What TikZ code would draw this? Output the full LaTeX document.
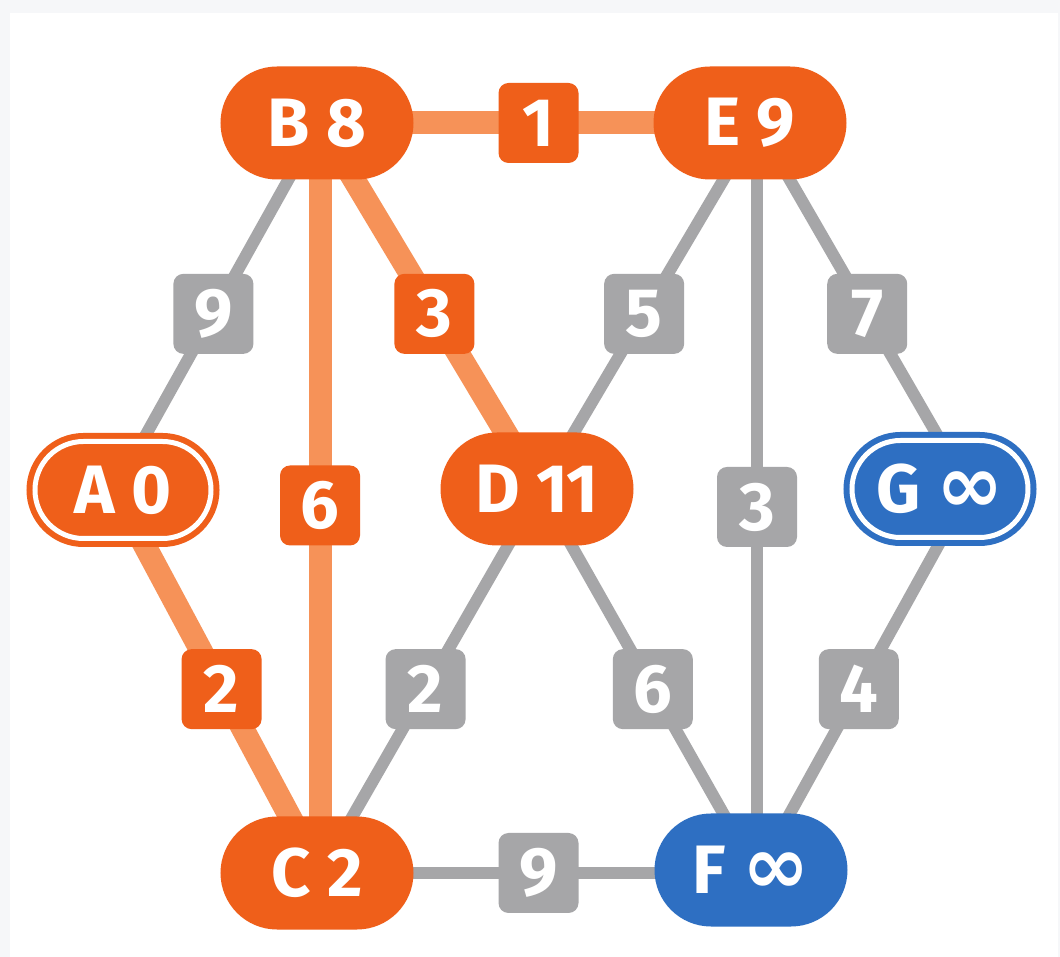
\documentclass[tikz,border=0pt]{standalone}
\usepackage{fontspec}
\setmainfont{Fira Sans}
\newfontfamily\symfont{DejaVu Sans}
\usetikzlibrary{shapes.misc,calc}
\definecolor{nodeorange}{RGB}{239,95,26}
\definecolor{edgeorange}{RGB}{246,146,88}
\definecolor{edgegray}{RGB}{166,166,168}
\definecolor{nodeblue}{RGB}{46,111,194}
\definecolor{pagebg}{RGB}{246,247,249}
\pgfdeclarelayer{back}
\pgfdeclarelayer{bg}
\pgfsetlayers{back,bg,main}
\newcommand{\inftysym}{{\symfont\fontsize{46}{46}\selectfont ∞}}
\begin{document}
\begin{tikzpicture}[x=0.2mm,y=-0.2mm,
  lbl/.style={text=white,font=\fontsize{39}{39}\selectfont\bfseries},
  pill/.style={lbl,rounded rectangle,inner sep=0pt,minimum width=38.6mm,minimum height=22.6mm,fill=#1},
  dpill/.style={lbl,rounded rectangle,inner sep=0pt,minimum width=35.2mm,minimum height=19.4mm,fill=#1,draw=#1,line width=1.2mm,double=white,double distance=1mm},
  wbox/.style={lbl,rectangle,rounded corners=2mm,inner sep=0pt,minimum size=16mm,fill=#1},
  hot/.style={draw=edgeorange,line width=4.6mm},
  cold/.style={draw=edgegray,line width=2.4mm}]
\begin{pgfonlayer}{back}
\fill[pagebg] (0,0) rectangle (1060,957);
\fill[white] (10,13) rectangle (1058,957);
\end{pgfonlayer}
\useasboundingbox (0,0) rectangle (1060,957);
% nodes
\node[pill=nodeorange] (B) at (317,123) {B 8};
\node[pill=nodeorange] (E) at (750,123) {E 9};
\node[dpill=nodeorange] (A) at (123,490) {A 0};
\node[pill=nodeorange] (D) at (537,489) {D 11};
\node[dpill=nodeblue] (G) at (940,489) {G \inftysym};
\node[pill=nodeorange] (C) at (317,873) {C 2};
\node[pill=nodeblue] (F) at (751,870) {F \inftysym};
% edge anchor points inside the nodes
\coordinate (a) at ($(A)+(-8,0)$);
\coordinate (b) at ($(B)+(3,0)$);
\coordinate (c) at ($(C)+(3,0)$);
\coordinate (d) at ($(D)+(3,1)$);
\coordinate (e) at ($(E)+(7,0)$);
\coordinate (f) at ($(F)+(6,3)$);
\coordinate (g) at ($(G)+(29,1)$);
\begin{pgfonlayer}{bg}
\draw[cold] (b) -- node[pos=.52,wbox=edgegray]{9} (a);
\draw[cold] (e) -- node[pos=.52,wbox=edgegray]{5} (d);
\draw[cold] (e) -- node[pos=.52,wbox=edgegray]{7} (g);
\draw[cold] (e) -- node[pos=.512,wbox=edgegray]{3} (f);
\draw[cold] (d) -- node[pos=.52,wbox=edgegray]{2} (c);
\draw[cold] (d) -- node[pos=.52,wbox=edgegray]{6} (f);
\draw[cold] (g) -- node[pos=.52,wbox=edgegray]{4} (f);
\draw[cold] (c) -- node[pos=.5,wbox=edgegray]{9} (f);
\draw[hot] (b) -- node[pos=.5,wbox=nodeorange]{1} (e);
\draw[hot] (a) -- node[pos=.52,wbox=nodeorange]{2} (c);
\draw[hot] (b) -- node[pos=.51,wbox=nodeorange]{6} (c);
\draw[hot] (b) -- node[pos=.52,wbox=nodeorange]{3} (d);
\end{pgfonlayer}
\end{tikzpicture}
\end{document}
